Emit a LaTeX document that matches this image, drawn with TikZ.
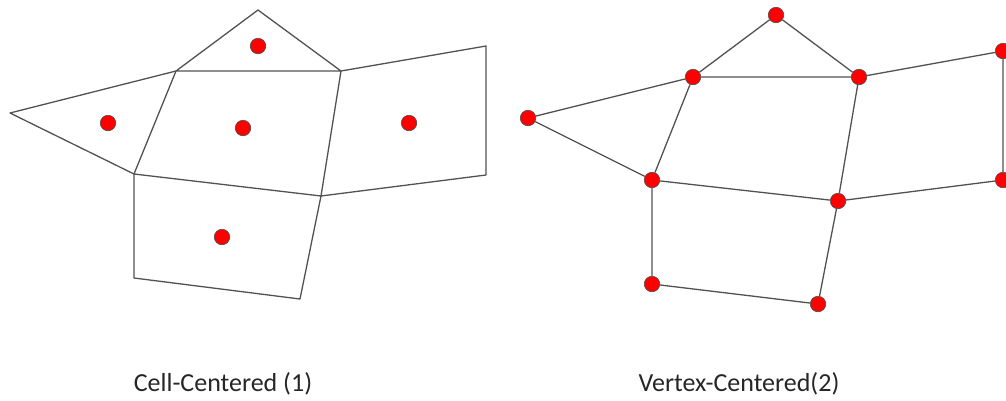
\documentclass[tikz,border=0pt]{standalone}
\usepackage{fontspec}
\setmainfont{Carlito}
\begin{document}
\begin{tikzpicture}[x=1pt,y=-1pt,
  edge/.style={draw=black!68,line width=1.3pt,line join=round},
  dot/.style={circle,fill=red,draw=black!70,line width=0.6pt,minimum size=15.5pt,inner sep=0pt},
  lbl/.style={font=\fontsize{26}{30}\selectfont,text=black!85}]
\useasboundingbox (0,0) rectangle (1006,400);
\clip (0,0) rectangle (1006,400);
% ---- left mesh: cell-centered ----
\coordinate (lT) at (258,10);
\coordinate (lA) at (176,71);
\coordinate (lB) at (341,71);
\coordinate (lL) at (10,113);
\coordinate (lC) at (134,174);
\coordinate (lD) at (321,196);
\coordinate (lRT) at (486,46);
\coordinate (lRB) at (486,175);
\coordinate (lBL) at (134,278);
\coordinate (lBR) at (300,299);
\draw[edge] (lA) -- (lT) -- (lB) -- (lA) -- (lC) -- (lD) -- (lB);
\draw[edge] (lA) -- (lL) -- (lC);
\draw[edge] (lB) -- (lRT) -- (lRB) -- (lD);
\draw[edge] (lC) -- (lBL) -- (lBR) -- (lD);
\node[dot] (c1) at (258,46) {};
\node[dot] (c2) at (108,123) {};
\node[dot] (c3) at (243,128) {};
\node[dot] (c4) at (409,123) {};
\node[dot] (c5) at (222,237) {};
% ---- right mesh: vertex-centered ----
\node[dot] (rT) at (776,15) {};
\node[dot] (rA) at (693,77) {};
\node[dot] (rB) at (859,77) {};
\node[dot] (rL) at (528,118) {};
\node[dot] (rC) at (652,180) {};
\node[dot] (rD) at (838,201) {};
\node[dot] (rRT) at (1003,51) {};
\node[dot] (rRB) at (1003,180) {};
\node[dot] (rBL) at (652,284) {};
\node[dot] (rBR) at (818,304) {};
\draw[edge] (rA) -- (rT) -- (rB) -- (rA) -- (rC) -- (rD) -- (rB);
\draw[edge] (rA) -- (rL) -- (rC);
\draw[edge] (rB) -- (rRT) -- (rRB) -- (rD);
\draw[edge] (rC) -- (rBL) -- (rBR) -- (rD);
% labels
\node[lbl] (t1) at (223,384) {Cell-Centered (1)};
\node[lbl] (t2) at (739,384) {Vertex-Centered(2)};
\end{tikzpicture}
\end{document}
